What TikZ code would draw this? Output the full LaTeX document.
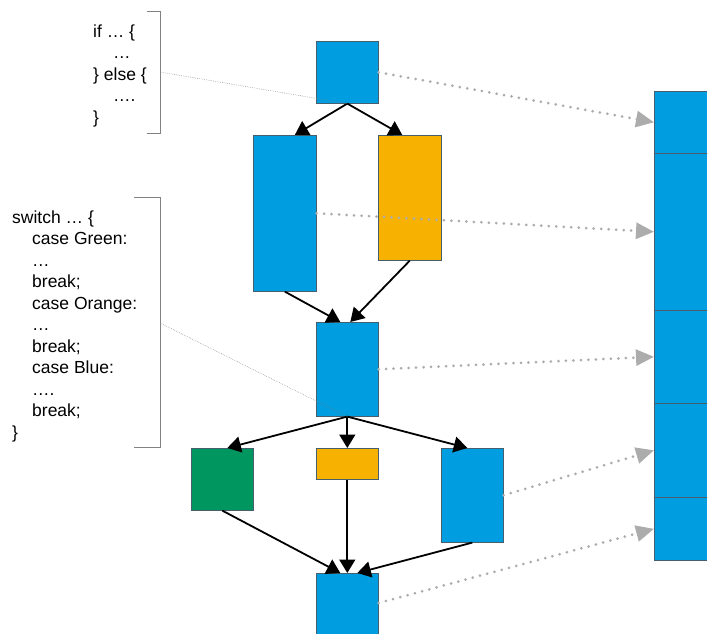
\documentclass[tikz,border=0pt]{standalone}
\usepackage{fontspec}
\setmainfont{Liberation Sans}
\usetikzlibrary{arrows.meta}
\definecolor{cblue}{RGB}{0,157,224}
\definecolor{corange}{RGB}{247,177,0}
\definecolor{cgreen}{RGB}{0,150,96}
\definecolor{edge}{RGB}{70,95,110}
\definecolor{mapgray}{RGB}{172,172,172}
\definecolor{bracegray}{RGB}{130,130,130}
\begin{document}
\begin{tikzpicture}[x=1pt,y=-1pt,
  blk/.style={draw=edge, line width=0.6pt, inner sep=0pt, anchor=north west},
  flow/.style={-{Triangle[length=13.5pt,width=16pt]}, line width=1.8pt, black},
  maparrow/.style={-{Triangle[length=18pt,width=16pt]}, mapgray, line width=3pt,
                   line cap=round, dash pattern=on 0pt off 7.5pt},
  link/.style={bracegray, line width=0.5pt, dash pattern=on 0.6pt off 1.2pt},
  brace/.style={bracegray, line width=0.9pt},
  code/.style={font=\fontsize{17.5}{21.5}\selectfont, align=left, inner sep=0pt, anchor=north west}]
\useasboundingbox (0,0) rectangle (707,634);

% source code fragments
\node[code] (ifcode) at (93,24.5)
  {if … \{\\\hspace*{20pt}…\\\} else \{\\\hspace*{20pt}….\\\}};
\node[code] (swcode) at (12,210.5)
  {switch … \{\\
   \hspace*{20pt}case Green:\\
   \hspace*{20pt}…\\
   \hspace*{20pt}break;\\
   \hspace*{20pt}case Orange:\\
   \hspace*{20pt}…\\
   \hspace*{20pt}break;\\
   \hspace*{20pt}case Blue:\\
   \hspace*{20pt}….\\
   \hspace*{20pt}break;\\
   \}};

% brackets around the fragments
\draw[brace] (147,11) -- (160,11) -- (160,133) -- (147,133);
\draw[brace] (134,197) -- (160,197) -- (160,447) -- (134,447);
\coordinate (ifbr) at (160,72);
\coordinate (swbr) at (160,323);

% control flow graph
\node[blk, fill=cblue,   minimum width=62pt, minimum height=62pt]  (A) at (316,41) {};
\node[blk, fill=cblue,   minimum width=63pt, minimum height=156pt] (B) at (253,135) {};
\node[blk, fill=corange, minimum width=63pt, minimum height=125pt] (C) at (378,135) {};
\node[blk, fill=cblue,   minimum width=62pt, minimum height=94pt]  (D) at (316,322) {};
\node[blk, fill=cgreen,  minimum width=62pt, minimum height=62pt]  (E) at (191,448) {};
\node[blk, fill=corange, minimum width=62pt, minimum height=31pt]  (F) at (316,448) {};
\node[blk, fill=cblue,   minimum width=62pt, minimum height=94pt]  (G) at (441,448) {};
\node[blk, fill=cblue,   minimum width=62pt, minimum height=70pt]  (H) at (316,573) {};

% linear code layout
\node[blk, fill=cblue, minimum width=60pt, minimum height=62pt]  (s1) at (654,91) {};
\node[blk, fill=cblue, minimum width=60pt, minimum height=157pt] (s2) at (654,153) {};
\node[blk, fill=cblue, minimum width=60pt, minimum height=93pt]  (s3) at (654,310) {};
\node[blk, fill=cblue, minimum width=60pt, minimum height=94pt]  (s4) at (654,403) {};
\node[blk, fill=cblue, minimum width=60pt, minimum height=63pt]  (s5) at (654,497) {};

% edges
\draw[flow] (A.south) -- ([xshift=10pt]B.north);
\draw[flow] (A.south) -- ([xshift=-7.5pt]C.north);
\draw[flow] (B.south) -- ([xshift=-7pt]D.north);
\draw[flow] (C.south) -- ([xshift=3pt]D.north);
\draw[flow] (D.south) -- ([xshift=5pt]E.north);
\draw[flow] (D.south) -- (F.north);
\draw[flow] (D.south) -- ([xshift=-5pt]G.north);
\draw[flow] (E.south) -- ([xshift=-7pt]H.north);
\draw[flow] (F.south) -- (H.north);
\draw[flow] (G.south) -- ([xshift=10pt]H.north);

% fragment links
\draw[link] (ifbr) -- (A.south);
\draw[link] (swbr) -- (D.south);

% block placement
\draw[maparrow] (A.east) -- (s1.west);
\draw[maparrow] (B.east) -- (s2.west);
\draw[maparrow] (D.east) -- (s3.west);
\draw[maparrow] (G.east) -- (s4.west);
\draw[maparrow] (H.north east |- 0,603) -- (s5.west);
\end{tikzpicture}
\end{document}
